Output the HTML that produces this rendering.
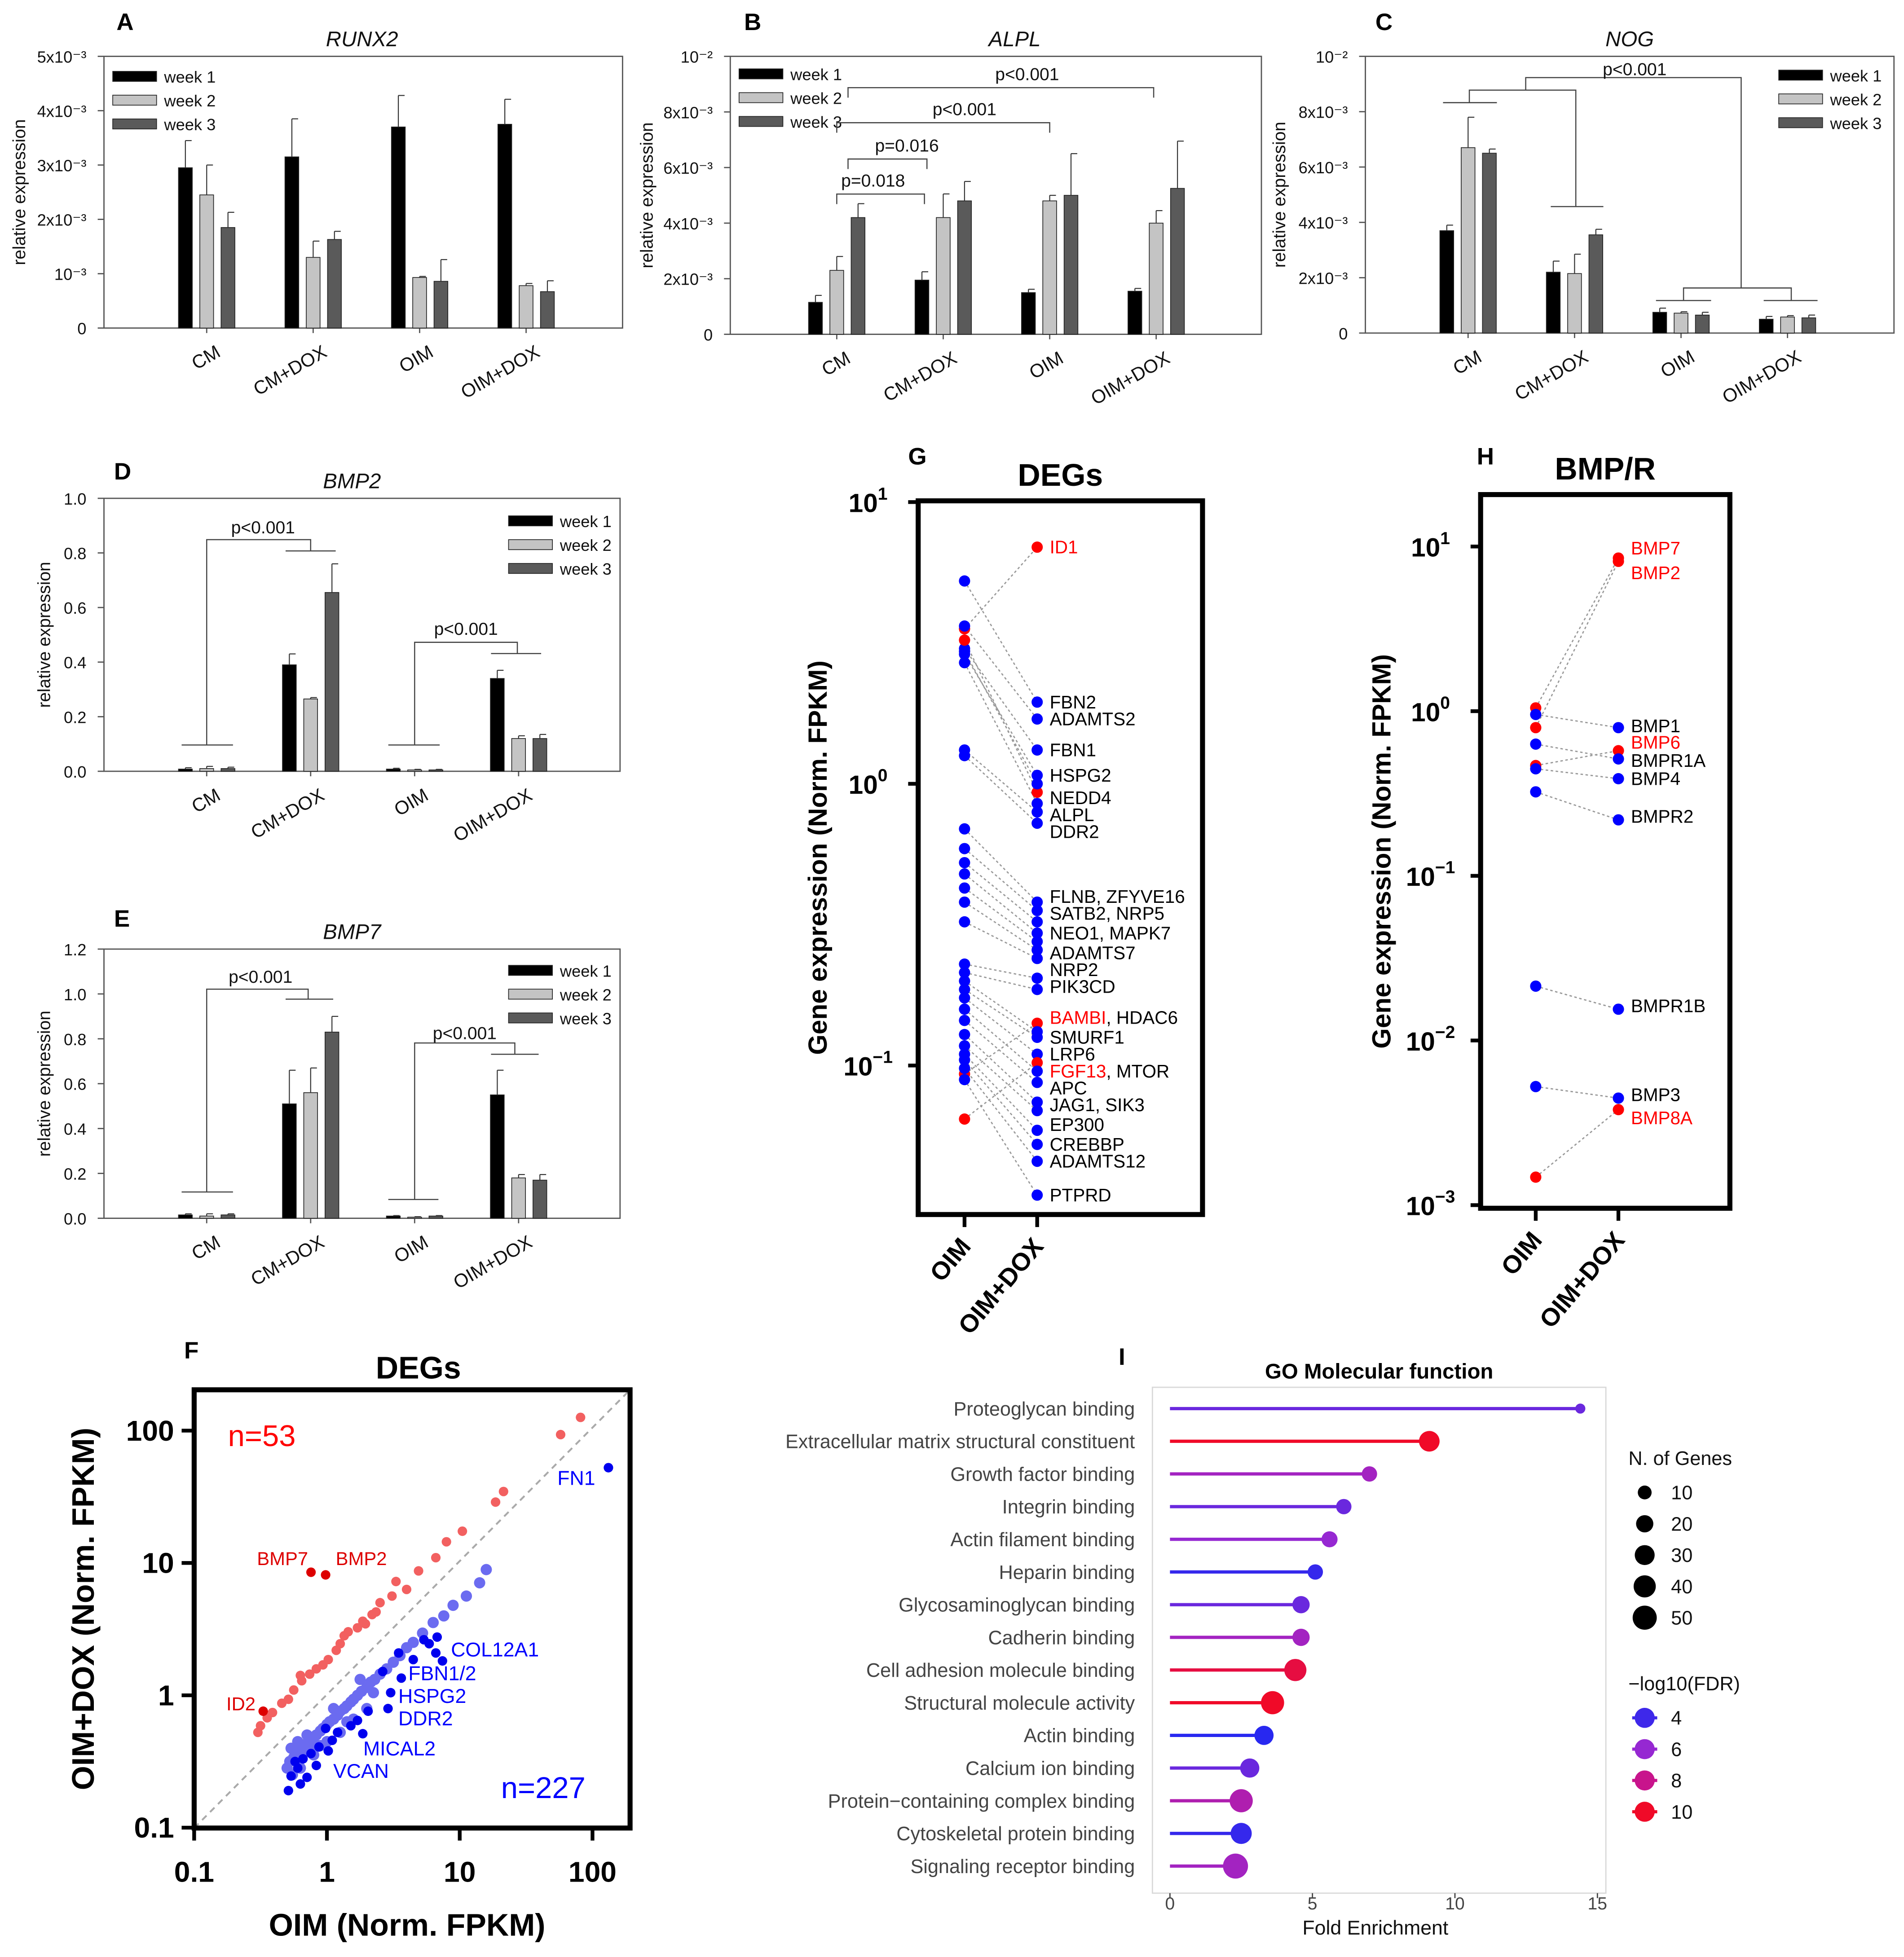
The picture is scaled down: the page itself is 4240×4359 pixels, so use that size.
<!DOCTYPE html>
<html><head><meta charset="utf-8">
<style>
html,body{margin:0;padding:0;background:#fff;}
svg{display:block;font-family:"Liberation Sans",Arial,sans-serif;}
</style></head>
<body>
<svg id="fig" xmlns="http://www.w3.org/2000/svg" width="4240" height="4359" viewBox="0 0 1520 1563" preserveAspectRatio="none">
<rect x="0" y="0" width="1520" height="1563" fill="#fff"/>
</svg>
<script>
// ---------- DATA ----------
const groups=['CM','CM+DOX','OIM','OIM+DOX'];
const weeks=['week 1','week 2','week 3'];
// RUNX2 (x1e-3)
const runx2Week1=[2.95,3.15,3.7,3.75];
const runx2Week2=[2.45,1.3,0.93,0.78];
const runx2Week3=[1.85,1.63,0.86,0.67];
const runx2Err1=[0.5,0.7,0.58,0.46];
const runx2Err2=[0.55,0.3,0.02,0.04];
const runx2Err3=[0.28,0.15,0.4,0.2];
// ALPL (x1e-3)
const alplWeek1=[1.15,1.95,1.5,1.55];
const alplWeek2=[2.3,4.2,4.8,4.0];
const alplWeek3=[4.2,4.8,5.0,5.25];
const alplErr1=[0.25,0.3,0.12,0.1];
const alplErr2=[0.5,0.85,0.2,0.45];
const alplErr3=[0.5,0.7,1.5,1.7];
// NOG (x1e-3)
const nogWeek1=[3.7,2.2,0.75,0.5];
const nogWeek2=[6.7,2.15,0.72,0.58];
const nogWeek3=[6.5,3.55,0.65,0.55];
const nogErr1=[0.2,0.4,0.15,0.1];
const nogErr2=[1.1,0.7,0.05,0.05];
const nogErr3=[0.15,0.2,0.1,0.1];
// BMP2
const bmp2Week1=[0.008,0.39,0.008,0.34];
const bmp2Week2=[0.01,0.265,0.005,0.12];
const bmp2Week3=[0.01,0.655,0.005,0.12];
const bmp2Err1=[0.005,0.04,0.003,0.03];
const bmp2Err2=[0.008,0.005,0.002,0.01];
const bmp2Err3=[0.005,0.105,0.002,0.015];
// BMP7
const bmp7Week1=[0.015,0.51,0.01,0.55];
const bmp7Week2=[0.01,0.56,0.005,0.18];
const bmp7Week3=[0.015,0.83,0.01,0.17];
const bmp7Err1=[0.005,0.15,0.002,0.11];
const bmp7Err2=[0.01,0.11,0.002,0.015];
const bmp7Err3=[0.005,0.07,0.002,0.025];

// Panel G (log10 Norm. FPKM)
const degGenes=['ID1','FBN2','ADAMTS2','FBN1','HSPG2','NEDD4','ALPL','DDR2','FLNB','ZFYVE16','SATB2','NRP5','NEO1','MAPK7','ADAMTS7','NRP2','PIK3CD','BAMBI','HDAC6','SMURF1','LRP6','FGF13','MTOR','APC','JAG1','SIK3','EP300','CREBBP','ADAMTS12','PTPRD','X1','X2'];
const degOIM=[0.55,0.72,0.56,0.48,0.46,0.43,0.12,0.10,-0.16,-0.23,-0.28,-0.32,-0.37,-0.42,-0.49,-0.64,-0.67,-1.03,-0.70,-0.73,-0.76,-1.19,-0.80,-0.84,-0.89,-0.93,-0.96,-0.98,-1.01,-1.05,0.51,0.47];
const degDOX=[0.84,0.29,0.23,0.12,0.03,-0.07,-0.10,-0.14,-0.42,-0.45,-0.49,-0.53,-0.56,-0.59,-0.62,-0.69,-0.73,-0.85,-0.88,-0.90,-0.96,-0.99,-1.02,-1.06,-1.13,-1.16,-1.23,-1.28,-1.34,-1.46,-0.03,0.0];
const degRed=['ID1','BAMBI','FGF13'];
const degLabels=['ID1','FBN2','ADAMTS2','FBN1','HSPG2','NEDD4','ALPL','DDR2','FLNB, ZFYVE16','SATB2, NRP5','NEO1, MAPK7','ADAMTS7','NRP2','PIK3CD','BAMBI, HDAC6','SMURF1','LRP6','FGF13, MTOR','APC','JAG1, SIK3','EP300','CREBBP','ADAMTS12','PTPRD'];
const degLabelVals=[0.84,0.29,0.23,0.12,0.03,-0.05,-0.11,-0.17,-0.40,-0.46,-0.53,-0.60,-0.66,-0.72,-0.83,-0.90,-0.96,-1.02,-1.08,-1.14,-1.21,-1.28,-1.34,-1.46];

// Panel H
const bmpGenes=['BMP7','BMP2','BMP1','BMP6','BMPR1A','BMP4','BMPR2','BMPR1B','BMP3','BMP8A'];
const bmpOIM=[0.02,-0.10,-0.02,-0.33,-0.20,-0.35,-0.49,-1.67,-2.28,-2.83];
const bmpDOX=[0.93,0.91,-0.10,-0.24,-0.29,-0.41,-0.66,-1.81,-2.35,-2.42];
const bmpRedGenes=['BMP7','BMP2','BMP6','BMP8A'];
const bmpLabelVals=[0.99,0.84,-0.09,-0.19,-0.30,-0.41,-0.64,-1.79,-2.33,-2.47];

// Panel F scatter (log10 values)
const upX=[1.91,1.76,1.33,1.27,1.02,0.90,0.82,0.69,0.52,0.49,0.40,0.34,0.29,0.23,0.16,0.10,0.07,0.01,-0.08,-0.13,-0.19,-0.25,-0.29,-0.34,-0.41,-0.45,-0.50,-0.52,0.27,0.37,-0.20,-0.03,0.60,0.13];
const upY=[2.10,1.97,1.54,1.46,1.24,1.16,1.04,0.94,0.86,0.75,0.70,0.61,0.54,0.51,0.48,0.39,0.34,0.27,0.20,0.16,0.11,0.04,-0.03,-0.06,-0.13,-0.17,-0.23,-0.28,0.56,0.63,0.15,0.23,0.80,0.45];
const upHiX=[-0.12,-0.01,-0.48];
const upHiY=[0.93,0.91,-0.12];
const upHiLabels=['BMP7','BMP2','ID2'];
const downX=[-0.3,-0.28,-0.25,-0.22,-0.2,-0.18,-0.15,-0.12,-0.1,-0.08,-0.05,-0.03,0,0.02,0.05,0.08,0.1,0.13,0.15,0.18,0.2,0.23,0.26,0.3,0.33,0.36,0.4,0.45,0.5,0.55,0.6,0.65,0.72,0.8,0.88,0.95,1.05,1.15,1.2,-0.26,-0.2,-0.1,0,0.1,0.2,0.3,-0.27,-0.15,0.05,0.25,-0.22,-0.05,0.15,0.35];
const downY=[-0.55,-0.5,-0.47,-0.45,-0.4,-0.43,-0.36,-0.38,-0.32,-0.3,-0.27,-0.25,-0.22,-0.2,-0.18,-0.15,-0.12,-0.1,-0.08,-0.05,-0.03,0,0.03,0.06,0.1,0.12,0.16,0.2,0.25,0.3,0.36,0.4,0.47,0.55,0.6,0.68,0.75,0.85,0.95,-0.6,-0.55,-0.45,-0.35,-0.28,-0.18,-0.1,-0.4,-0.3,-0.1,0.12,-0.35,-0.38,-0.2,0.02];
const downHiX=[2.12,0.73,0.77,0.83,0.65,0.54,0.42,0.48,0.31,0.23,0.18,0.08,0.04,-0.06,-0.12,-0.18,-0.22,-0.27,-0.15,-0.29,-0.2,-0.24,-0.01,0.27,0.01,-0.08,0.56,0.46,0.82,0.87];
const downHiY=[1.72,0.42,0.39,0.44,0.27,0.32,0.18,0.02,-0.12,-0.19,-0.23,-0.28,-0.34,-0.39,-0.44,-0.48,-0.55,-0.61,-0.62,-0.72,-0.67,-0.5,-0.25,-0.29,-0.42,-0.53,0.13,-0.10,0.32,0.26];

// Panel I
const goTerms=['Proteoglycan binding','Extracellular matrix structural constituent','Growth factor binding','Integrin binding','Actin filament binding','Heparin binding','Glycosaminoglycan binding','Cadherin binding','Cell adhesion molecule binding','Structural molecule activity','Actin binding','Calcium ion binding','Protein\u2212containing complex binding','Cytoskeletal protein binding','Signaling receptor binding'];
const goFold=[14.4,9.1,7.0,6.1,5.6,5.1,4.6,4.6,4.4,3.6,3.3,2.8,2.5,2.5,2.3];
const goGenes=[3,33,14,14,16,14,20,20,40,45,27,27,45,35,55];
const goFDR=[5,10,6.5,5,6,3.8,5,6.5,9.5,10,3.5,5,7,3.8,6.5];
const goSizeLegend=[10,20,30,40,50];
const goFdrLegend=[4,6,8,10];

// ---------- HELPERS ----------
const NS='http://www.w3.org/2000/svg';
const svg=document.getElementById('fig');
function mk(tag,attrs,parent){const e=document.createElementNS(NS,tag);for(const k in attrs)e.setAttribute(k,attrs[k]);(parent||svg).appendChild(e);return e;}
function txt(x,y,s,attrs,parent){const t=mk('text',Object.assign({x:x,y:y},attrs||{}),parent);t.textContent=s;return t;}
function grp(name){const g=mk('g',{});return g;}

// ---------- BAR PANELS ----------
const weekFill=['#000000','#c4c4c4','#5a5a5a'];
function barPanel(cfg){
  const g=grp(cfg.name);
  const box=mk('rect',{x:cfg.x0,y:cfg.ytop,width:cfg.x1-cfg.x0,height:cfg.y0-cfg.ytop,fill:'none',stroke:'#555','stroke-width':1},g);
  
  
  const ys=v=>cfg.y0-v/cfg.ymax*(cfg.y0-cfg.ytop);
  const gx=i=>cfg.x0+cfg.first+i*cfg.step;
  // ticks
  cfg.ticks.forEach((tv,k)=>{
    const y=ys(tv);
    mk('line',{x1:cfg.x0-5,x2:cfg.x0,y1:y,y2:y,stroke:'#555'},g);
    const t=txt(cfg.x0-14,y+5,cfg.tickLabels[k],{'text-anchor':'end','font-size':13,fill:'#111'},g);
    
    
  });
  const series=[cfg.w1,cfg.w2,cfg.w3], errs=[cfg.e1,cfg.e2,cfg.e3];
  groups.forEach((gn,i)=>{
    mk('line',{x1:gx(i),x2:gx(i),y1:cfg.y0,y2:cfg.y0+4,stroke:'#555'},g);
    series.forEach((s,w)=>{
      const cx=gx(i)+(w-1)*17;
      const top=ys(s[i]);
      const b=mk('rect',{x:cx-5.5,y:top,width:11,height:cfg.y0-top,fill:weekFill[w],stroke:'#222','stroke-width':0.6},g);
      
      
      const et=ys(s[i]+errs[w][i]);
      mk('line',{x1:cx,x2:cx,y1:top,y2:et,stroke:'#333','stroke-width':0.8},g);
      mk('line',{x1:cx,x2:cx+5,y1:et,y2:et,stroke:'#333','stroke-width':0.8},g);
    });
    const lbl=txt(gx(i)+12,cfg.y0+22,gn,{'text-anchor':'end','font-size':15,transform:'rotate(-30 '+(gx(i)+12)+' '+(cfg.y0+22)+')',fill:'#111'},g);
    
    
  });
  const title=txt((cfg.x0+cfg.x1)/2+(cfg.titleDx||0),cfg.ytop-8,cfg.title,{'text-anchor':'middle','font-size':17,'font-style':'italic',fill:'#111'},g);
  
  
  const yl=txt(cfg.ylx,(cfg.y0+cfg.ytop)/2,'relative expression',{'text-anchor':'middle','font-size':14,transform:'rotate(-90 '+cfg.ylx+' '+((cfg.y0+cfg.ytop)/2)+')',fill:'#111'},g);
  
  
  weeks.forEach((wk,w)=>{
    const ly=cfg.legY+w*19;
    const sw=mk('rect',{x:cfg.legX,y:ly-4,width:35,height:8,fill:weekFill[w],stroke:'#222','stroke-width':0.6},g);
    
    
    const lt=txt(cfg.legX+41,ly+5,wk,{'font-size':13,fill:'#111'},g);
    
    
  });
  return g;
}
const lettersA=['0','10\u207B\u00B3','2x10\u207B\u00B3','3x10\u207B\u00B3','4x10\u207B\u00B3','5x10\u207B\u00B3'];
const lettersB=['0','2x10\u207B\u00B3','4x10\u207B\u00B3','6x10\u207B\u00B3','8x10\u207B\u00B3','10\u207B\u00B2'];
barPanel({name:'panel-a-runx2',x0:83,x1:497,ytop:45,y0:262,ymax:5,first:82,step:85,ticks:[0,1,2,3,4,5],tickLabels:lettersA,w1:runx2Week1,w2:runx2Week2,w3:runx2Week3,e1:runx2Err1,e2:runx2Err2,e3:runx2Err3,title:'RUNX2',titleDx:-1,ylx:20,legX:90,legY:61});
barPanel({name:'panel-b-alpl',x0:583,x1:1007,ytop:45,y0:267,ymax:10,first:85,step:85,ticks:[0,2,4,6,8,10],tickLabels:lettersB,w1:alplWeek1,w2:alplWeek2,w3:alplWeek3,e1:alplErr1,e2:alplErr2,e3:alplErr3,title:'ALPL',titleDx:15,ylx:521,legX:590,legY:59});
barPanel({name:'panel-c-nog',x0:1090,x1:1512,ytop:45,y0:266,ymax:10,first:82,step:85,ticks:[0,2,4,6,8,10],tickLabels:lettersB,w1:nogWeek1,w2:nogWeek2,w3:nogWeek3,e1:nogErr1,e2:nogErr2,e3:nogErr3,title:'NOG',titleDx:0,ylx:1026,legX:1420,legY:60});
barPanel({name:'panel-d-bmp2',x0:83,x1:495,ytop:398,y0:616,ymax:1.0,first:82,step:83,ticks:[0,0.2,0.4,0.6,0.8,1.0],tickLabels:['0.0','0.2','0.4','0.6','0.8','1.0'],w1:bmp2Week1,w2:bmp2Week2,w3:bmp2Week3,e1:bmp2Err1,e2:bmp2Err2,e3:bmp2Err3,title:'BMP2',titleDx:-8,ylx:40,legX:406,legY:416});
barPanel({name:'panel-e-bmp7',x0:83,x1:495,ytop:758,y0:973,ymax:1.2,first:82,step:83,ticks:[0,0.2,0.4,0.6,0.8,1.0,1.2],tickLabels:['0.0','0.2','0.4','0.6','0.8','1.0','1.2'],w1:bmp7Week1,w2:bmp7Week2,w3:bmp7Week3,e1:bmp7Err1,e2:bmp7Err2,e3:bmp7Err3,title:'BMP7',titleDx:-8,ylx:40,legX:406,legY:775});

// significance brackets
const sig=grp('significance-brackets');
function path(d){mk('path',{d:d,fill:'none',stroke:'#444','stroke-width':0.9},sig);}
function ptxt(x,y,s){const t=txt(x,y,s,{'text-anchor':'middle','font-size':14,fill:'#111'},sig);}
// B
path('M668,163 V155 H738 V163');ptxt(697,149,'p=0.018');
path('M677,135 V127 H740 V135');ptxt(724,121,'p=0.016');
path('M668,106 V98 H838 V106');ptxt(770,92,'p<0.001');
path('M677,78 V70 H921 V78');ptxt(820,64,'p<0.001');
// C
path('M1152,82 H1195 M1173,82 V72 H1258 V165 M1238,165 H1280');
path('M1322,240 H1366 M1408,240 H1451 M1344,240 V230 H1430 V240');
path('M1218,72 V62 H1390 V230');ptxt(1305,60,'p<0.001');
// D
path('M145,595 H186 M165,595 V431 H248 V440 M228,440 H268');ptxt(210,426,'p<0.001');
path('M310,595 H351 M331,595 V513 H413 V522 M392,522 H432');ptxt(372,507,'p<0.001');
// E
path('M145,952 H186 M165,952 V790 H246 V798 M228,798 H266');ptxt(208,785,'p<0.001');
path('M310,958 H350 M331,958 V833 H411 V842 M392,842 H430');ptxt(371,830,'p<0.001');

// ---------- PANEL G & H ----------
function dotPanel(cfg){
  const g=grp(cfg.name);
  const ys=l=>cfg.y0-l*cfg.dec;
  const fr=mk('rect',{x:cfg.x0,y:cfg.ytop,width:cfg.x1-cfg.x0,height:cfg.ybot-cfg.ytop,fill:'none',stroke:'#000','stroke-width':4},g);
  
  
  const t=txt((cfg.x0+cfg.x1)/2,cfg.ytop-12,cfg.title,{'text-anchor':'middle','font-size':25,'font-weight':'bold'},g);
  
  
  cfg.ticks.forEach(e=>{
    const y=ys(e);
    mk('line',{x1:cfg.x0-8,x2:cfg.x0,y1:y,y2:y,stroke:'#000','stroke-width':3},g);
    const tl=txt(cfg.x0-40,y+8,'10',{'text-anchor':'middle','font-size':21,'font-weight':'bold'},g);
    const sp=mk('tspan',{dy:-10,'font-size':14},tl);sp.textContent=String(e).replace('-','\u2212');
    
    
  });
  const yl=txt(cfg.ylx,(cfg.ytop+cfg.ybot)/2,'Gene expression (Norm. FPKM)',{'text-anchor':'middle','font-size':21,'font-weight':'bold',transform:'rotate(-90 '+cfg.ylx+' '+((cfg.ytop+cfg.ybot)/2)+')'},g);
  
  
  [[cfg.xa,'OIM'],[cfg.xb,'OIM+DOX']].forEach(([x,s])=>{
    mk('line',{x1:x,x2:x,y1:cfg.ybot,y2:cfg.ybot+10,stroke:'#000','stroke-width':3},g);
    const xl=txt(x+6,cfg.ybot+26,s,{'text-anchor':'end','font-size':20,'font-weight':'bold',transform:'rotate(-50 '+(x+6)+' '+(cfg.ybot+26)+')'},g);
    
    
  });
  cfg.genes.forEach((gn,i)=>{
    const ya=ys(cfg.left[i]), yb=ys(cfg.right[i]);
    mk('line',{x1:cfg.xa,x2:cfg.xb,y1:ya,y2:yb,stroke:'#999','stroke-width':1,'stroke-dasharray':'2,2'},g);
  });
  cfg.genes.forEach((gn,i)=>{
    const red=cfg.red.indexOf(gn)>=0;
    const c1=mk('circle',{cx:cfg.xa,cy:ys(cfg.left[i]),r:4.5,fill:red?'#ff0000':'#0000ff'},g);
    
    
    const c2=mk('circle',{cx:cfg.xb,cy:ys(cfg.right[i]),r:4.5,fill:red?'#ff0000':'#0000ff'},g);
    
    
  });
  cfg.labels.forEach((s,i)=>{
    const lt=txt(cfg.xb+10,ys(cfg.labelVals[i])+5,'',{'font-size':14.5},g);
    s.split(', ').forEach((p,k)=>{
      const sp=mk('tspan',{fill:cfg.red.indexOf(p)>=0?'#ff0000':'#000'},lt);
      sp.textContent=(k>0?', ':'')+p;
    });
    
    
  });
}
dotPanel({name:'panel-g-degs',x0:733,x1:960,ytop:400,ybot:970,y0:626,dec:225,title:'DEGs',ticks:[1,0,-1],ylx:660,xa:770,xb:828,genes:degGenes,left:degOIM,right:degDOX,red:degRed.concat(['X1']),labels:degLabels,labelVals:degLabelVals});
dotPanel({name:'panel-h-bmp',x0:1182,x1:1381,ytop:395,ybot:965,y0:568,dec:131.5,title:'BMP/R',ticks:[1,0,-1,-2,-3],ylx:1110,xa:1226,xb:1292,genes:bmpGenes,left:bmpOIM,right:bmpDOX,red:bmpRedGenes,labels:bmpGenes,labelVals:bmpLabelVals});

// ---------- PANEL F ----------
(function(){
  const g=grp('panel-f-scatter');
  const xs=l=>261+l*106, ys=l=>1354-l*105.7;
  mk('line',{x1:155,y1:1460,x2:503,y2:1110,stroke:'#aaa','stroke-width':1.5,'stroke-dasharray':'5,4'},g);
  upX.forEach((v,i)=>{const c=mk('circle',{cx:xs(v),cy:ys(upY[i]),r:3.8,fill:'#f26060'},g);});
  downX.forEach((v,i)=>{const c=mk('circle',{cx:xs(v),cy:ys(downY[i]),r:4.5,fill:'#6b6bf0'},g);});
  downHiX.forEach((v,i)=>{const c=mk('circle',{cx:xs(v),cy:ys(downHiY[i]),r:3.8,fill:'#0000ee'},g);});
  upHiX.forEach((v,i)=>{const c=mk('circle',{cx:xs(v),cy:ys(upHiY[i]),r:3.8,fill:'#dd0000'},g);});
  const fr=mk('rect',{x:155,y:1110,width:348,height:350,fill:'none',stroke:'#000','stroke-width':4},g);
  
  
  [[-1,'0.1'],[0,'1'],[1,'10'],[2,'100']].forEach(([l,s])=>{
    mk('line',{x1:xs(l),x2:xs(l),y1:1460,y2:1470,stroke:'#000','stroke-width':3},g);
    const a=txt(xs(l),1503,s,{'text-anchor':'middle','font-size':23,'font-weight':'bold'},g);
    
    mk('line',{x1:145,x2:155,y1:ys(l),y2:ys(l),stroke:'#000','stroke-width':3},g);
    const b=txt(139,ys(l)+8,s,{'text-anchor':'end','font-size':23,'font-weight':'bold'},g);
    
  });
  const t=txt(334,1101,'DEGs',{'text-anchor':'middle','font-size':25,'font-weight':'bold'},g);
  
  const xl=txt(325,1546,'OIM (Norm. FPKM)',{'text-anchor':'middle','font-size':25,'font-weight':'bold'},g);
  
  const yl=txt(75,1285,'OIM+DOX (Norm. FPKM)',{'text-anchor':'middle','font-size':25,'font-weight':'bold',transform:'rotate(-90 75 1285)'},g);
  
  const anns=[[182,1155,'n=53','#ff0000',24,'start'],[400,1436,'n=227','#0000ff',24,'start'],[445,1186,'FN1','#0000ff',16,'start'],[246,1250,'BMP7','#dd0000',15,'end'],[268,1250,'BMP2','#dd0000',15,'start'],[204,1366,'ID2','#dd0000',15,'end'],[360,1323,'COL12A1','#0000ff',16,'start'],[326,1342,'FBN1/2','#0000ff',16,'start'],[318,1360,'HSPG2','#0000ff',16,'start'],[318,1378,'DDR2','#0000ff',16,'start'],[290,1402,'MICAL2','#0000ff',16,'start'],[266,1420,'VCAN','#0000ff',16,'start']];
  anns.forEach(a=>{const e=txt(a[0],a[1],a[2],{fill:a[3],'font-size':a[4],'text-anchor':a[5]},g);});
})();

// ---------- PANEL I ----------
(function(){
  const g=grp('panel-i-go-lollipop');
  const xs=v=>934+v*22.75;
  const rowY=i=>1125+i*26.1;
  const rs=n=>2.2+Math.sqrt(n)*1.05;
  function fdrColor(f){
    const stops=[[3.5,[40,40,240]],[6,[150,40,210]],[8,[200,20,140]],[10,[240,10,40]]];
    if(f<=stops[0][0])return 'rgb('+stops[0][1]+')';
    for(let k=1;k<stops.length;k++){if(f<=stops[k][0]){const a=stops[k-1],b=stops[k],t=(f-a[0])/(b[0]-a[0]);return 'rgb('+a[1].map((c,j)=>Math.round(c+(b[1][j]-c)*t)).join(',')+')';}}
    return 'rgb('+stops[3][1]+')';
  }
  const fr=mk('rect',{x:920,y:1108,width:362,height:404,fill:'none',stroke:'#d9d9d9','stroke-width':1},g);
  
  goTerms.forEach((term,i)=>{
    const y=rowY(i),col=fdrColor(goFDR[i]);
    mk('line',{x1:xs(0),x2:xs(goFold[i]),y1:y,y2:y,stroke:col,'stroke-width':2.6},g);
    const c=mk('circle',{cx:xs(goFold[i]),cy:y,r:rs(goGenes[i]),fill:col},g);
    
    const l=txt(906,y+5.5,term,{'text-anchor':'end','font-size':15.5,fill:'#444'},g);
    
  });
  [0,5,10,15].forEach(v=>{
    mk('line',{x1:xs(v),x2:xs(v),y1:1512,y2:1516,stroke:'#444'},g);
    const t=txt(xs(v),1525,String(v),{'text-anchor':'middle','font-size':14,fill:'#444'},g);
    
  });
  const xl=txt(1098,1545,'Fold Enrichment',{'text-anchor':'middle','font-size':16,fill:'#111'},g);
  
  const tt=txt(1101,1101,'GO Molecular function',{'text-anchor':'middle','font-size':17,'font-weight':'bold'},g);
  
  const lg1=txt(1300,1170,'N. of Genes',{'font-size':15.5,fill:'#111'},g);
  
  goSizeLegend.forEach((n,k)=>{
    const y=1192+k*25;
    mk('circle',{cx:1313,cy:y,r:rs(n),fill:'#000'},g);
    const t=txt(1334,y+5.5,String(n),{'font-size':15.5,fill:'#111'},g);
    
  });
  const lg2=txt(1300,1350,'\u2212log10(FDR)',{'font-size':15.5,fill:'#111'},g);
  
  goFdrLegend.forEach((f,k)=>{
    const y=1372+k*25;
    mk('line',{x1:1303,x2:1323,y1:y,y2:y,stroke:fdrColor(f),'stroke-width':2.5},g);
    mk('circle',{cx:1313,cy:y,r:8,fill:fdrColor(f)},g);
    const t=txt(1334,y+5.5,String(f),{'font-size':15.5,fill:'#111'},g);
    
  });
})();

// ---------- PANEL LETTERS ----------
[['A',93,24],['B',594,24],['C',1098,24],['D',91,383],['E',91,740],['F',147,1085],['G',725,371],['H',1179,371],['I',893,1090]].forEach(p=>{
  const t=txt(p[1],p[2],p[0],{'font-size':19,'font-weight':'bold'});
  
  
});
</script>
</body></html>
